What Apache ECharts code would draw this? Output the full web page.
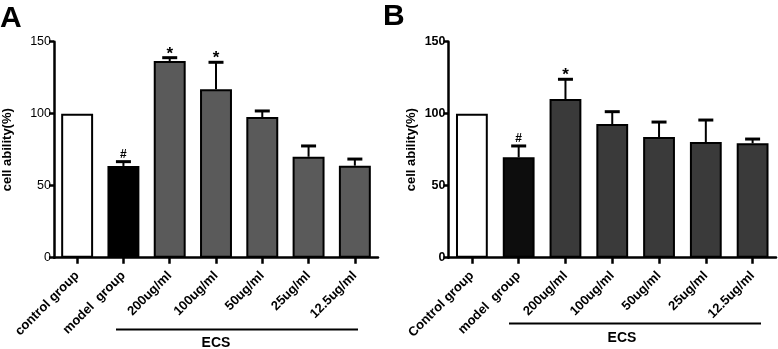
<!DOCTYPE html>
<html>
<head>
<meta charset="utf-8">
<script src="https://cdn.jsdelivr.net/npm/echarts@6/dist/echarts.min.js"></script>
<style>
html,body{margin:0;padding:0;background:#fff;}
#c{width:778px;height:349px;}
</style>
</head>
<body>
<div id="c"></div>
<script>
const categoriesA = ['control group', 'model  group', '200ug/ml', '100ug/ml', '50ug/ml', '25ug/ml', '12.5ug/ml'];
const categoriesB = ['Control group', 'model  group', '200ug/ml', '100ug/ml', '50ug/ml', '25ug/ml', '12.5ug/ml'];
const valuesA = [100, 63.7, 136.6, 116.9, 97.7, 70.1, 63.9];
const errorsA = [0, 3.0, 2.3, 18.8, 4.2, 7.5, 4.6];
const marksA = ['', '#', '*', '*', '', '', ''];
const valuesB = [100, 69.7, 110.2, 92.8, 83.8, 80.3, 79.4];
const errorsB = [0, 7.9, 13.7, 8.6, 10.4, 15.3, 3.0];
const marksB = ['', '#', '*', '', '', '', ''];
const yTicks = [0, 50, 100, 150];

const FONT = 'Liberation Sans, Arial, sans-serif';
const colorsA = ['#ffffff', '#000000', '#5a5a5a', '#5a5a5a', '#5a5a5a', '#5a5a5a', '#5a5a5a'];
const colorsB = ['#ffffff', '#0d0d0d', '#3a3a3a', '#3a3a3a', '#3a3a3a', '#3a3a3a', '#3a3a3a'];

function barData(vals, cols) {
  return vals.map((v, i) => ({ value: v, itemStyle: { color: cols[i] } }));
}
function errData(vals, errs) {
  return vals.map((v, i) => [i, v, v + errs[i]]);
}
function makeRender(marks) {
  return function (params, api) {
    const x = api.value(0), v = api.value(1), e = api.value(2);
    const base = api.coord([x, v]);
    const top = api.coord([x, e]);
    const half = 7.5;
    const children = [];
    if (e > v) {
      children.push({ type: 'line', shape: { x1: base[0], y1: base[1], x2: top[0], y2: top[1] }, style: { stroke: '#000', lineWidth: 2 } });
      children.push({ type: 'line', shape: { x1: top[0] - half, y1: top[1], x2: top[0] + half, y2: top[1] }, style: { stroke: '#000', lineWidth: 3 } });
    }
    const m = marks[params.dataIndex];
    if (m) {
      children.push({ type: 'text', style: { text: m, x: top[0], y: top[1] + (m === '*' ? 5 : -1), align: 'center', verticalAlign: 'bottom', font: 'bold ' + (m === '*' ? 17 : 12) + 'px ' + FONT, fill: '#000' } });
    }
    return { type: 'group', children: children };
  };
}

function xAxis(idx, cats) {
  return {
    type: 'category', gridIndex: idx, data: cats,
    axisLine: { lineStyle: { color: '#000', width: 2.5 } },
    axisTick: { show: true, alignWithLabel: true, length: 6, lineStyle: { color: '#000', width: 2.5 } },
    axisLabel: { rotate: 45, margin: 16, fontFamily: FONT, fontWeight: 'bold', fontSize: 13, color: '#000', interval: 0 }
  };
}
function yAxis(idx, gap, bold) {
  return {
    type: 'value', gridIndex: idx, min: yTicks[0], max: yTicks[yTicks.length - 1], interval: 50,
    name: 'cell ability(%)', nameLocation: 'middle', nameGap: gap,
    nameTextStyle: { fontFamily: FONT, fontWeight: 'bold', fontSize: 13, color: '#000' },
    axisLine: { show: true, lineStyle: { color: '#000', width: 2.5 } },
    axisTick: { show: true, length: 5, lineStyle: { color: '#000', width: 2.5 } },
    axisLabel: { margin: 3, fontFamily: FONT, fontWeight: bold ? 'bold' : 'normal', fontSize: 12.5, color: '#000' },
    splitLine: { show: false }
  };
}

const chart = echarts.init(document.getElementById('c'), null, { renderer: 'canvas' });
chart.setOption({
  animation: false,
  backgroundColor: '#fff',
  grid: [
    { left: 52, top: 41.7, width: 326, height: 216 },
    { left: 448.5, top: 41.7, width: 327.5, height: 216 }
  ],
  xAxis: [xAxis(0, categoriesA), xAxis(1, categoriesB)],
  yAxis: [yAxis(0, 40, false), yAxis(1, 31, true)],
  series: [
    { type: 'bar', xAxisIndex: 0, yAxisIndex: 0, data: barData(valuesA, colorsA), barWidth: '69%', itemStyle: { borderColor: '#000', borderWidth: 2 } },
    { type: 'custom', xAxisIndex: 0, yAxisIndex: 0, data: errData(valuesA, errorsA), renderItem: makeRender(marksA), z: 5 },
    { type: 'bar', xAxisIndex: 1, yAxisIndex: 1, data: barData(valuesB, colorsB), barWidth: '68%', itemStyle: { borderColor: '#000', borderWidth: 2 } },
    { type: 'custom', xAxisIndex: 1, yAxisIndex: 1, data: errData(valuesB, errorsB), renderItem: makeRender(marksB), z: 5 }
  ],
  graphic: [
    { type: 'text', left: 0, top: 4, style: { text: 'A', font: 'bold 30px ' + FONT, fill: '#000' } },
    { type: 'text', left: 383, top: 2, style: { text: 'B', font: 'bold 30px ' + FONT, fill: '#000' } },
    { type: 'line', shape: { x1: 116, y1: 329.5, x2: 358, y2: 329.5 }, style: { stroke: '#000', lineWidth: 2 } },
    { type: 'text', style: { text: 'ECS', x: 216, y: 343, align: 'center', verticalAlign: 'middle', font: 'bold 14px ' + FONT, fill: '#000' } },
    { type: 'line', shape: { x1: 509, y1: 323.5, x2: 761, y2: 323.5 }, style: { stroke: '#000', lineWidth: 2 } },
    { type: 'text', style: { text: 'ECS', x: 622, y: 338, align: 'center', verticalAlign: 'middle', font: 'bold 14px ' + FONT, fill: '#000' } }
  ]
});
</script>
</body>
</html>
